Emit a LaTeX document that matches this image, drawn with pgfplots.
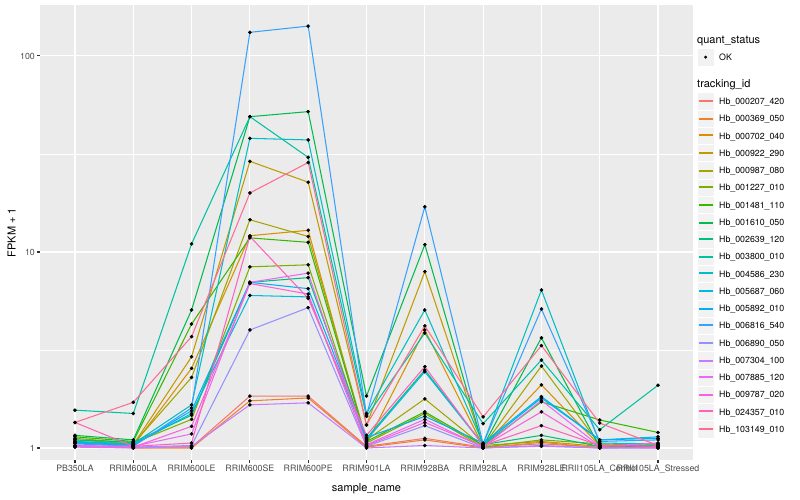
\documentclass[border=0pt]{standalone}
\usepackage{pgfplots}
\pgfplotsset{compat=1.18}
\usepackage{pgfplotstable}
\usepackage{fontspec}
\setmainfont{TeX Gyre Heros}

\definecolor{panelbg}{HTML}{EBEBEB}
\definecolor{keybg}{HTML}{F2F2F2}
\definecolor{gray30}{HTML}{4D4D4D}
\definecolor{gray20}{HTML}{333333}
% ggplot hue palette, 20 levels
\definecolor{c1}{HTML}{F8766D}
\definecolor{c2}{HTML}{EA8331}
\definecolor{c3}{HTML}{D89000}
\definecolor{c4}{HTML}{C09B00}
\definecolor{c5}{HTML}{A3A500}
\definecolor{c6}{HTML}{7CAE00}
\definecolor{c7}{HTML}{39B600}
\definecolor{c8}{HTML}{00BB4E}
\definecolor{c9}{HTML}{00BF7D}
\definecolor{c10}{HTML}{00C1A3}
\definecolor{c11}{HTML}{00BFC4}
\definecolor{c12}{HTML}{00BAE0}
\definecolor{c13}{HTML}{00B0F6}
\definecolor{c14}{HTML}{35A2FF}
\definecolor{c15}{HTML}{9590FF}
\definecolor{c16}{HTML}{C77CFF}
\definecolor{c17}{HTML}{E76BF3}
\definecolor{c18}{HTML}{FA62DB}
\definecolor{c19}{HTML}{FF62BC}
\definecolor{c20}{HTML}{FF6C91}

\newcommand\tickfont{\fontsize{8.8bp}{10bp}\selectfont}
\newcommand\titlefont{\fontsize{11bp}{13bp}\selectfont}

% one legend key: y centre, line y, colour, label
\newcommand\legkey[4]{%
  \fill[keybg, draw=white, line width=0.5bp] (697,#1-8.64) rectangle (714.3,#1+8.64);
  \draw[draw=#3, line width=1.8bp] (698.7,#2) -- (712.6,#2);
  \node[anchor=base west, inner sep=0pt, font=\tickfont] at (719,#1-3.2) {#4};
}

% FPKM + 1, one row per sample, one column per tracking_id
\pgfplotstableread{
x  s1   s2   s3   s4   s5   s6   s7   s8   s9   s10  s11  s12  s13  s14  s15  s16  s17  s18  s19  s20
0  1.02 1.03 1.06 1.08 1.10 1.12 1.14 1.16 1.10 1.56 1.08 1.07 1.06 1.05 1.02 1.01 1.03 1.02 1.35 1.35
1  1.01 1.00 1.03 1.04 1.05 1.06 1.08 1.10 1.07 1.50 1.05 1.04 1.03 1.02 1.01 1.00 1.02 1.01 1.02 1.71
2  1.01 1.00 2.55 2.92 2.29 1.40 4.29 5.06 1.47 11.0 1.66 1.50 1.55 1.60 1.03 1.02 1.18 1.29 1.06 3.70
3  1.84 1.74 12.1 29   14.6 8.4  11.8 49   7.0  49   38   6.0  7.0  132  4.0  1.66 7.0  6.9  12.0 20
4  1.84 1.80 12.9 22.7 12.0 8.6  11.2 52   7.4  30.4 37.3 5.9  6.5  142  5.2  1.70 7.8  6.1  5.8  28.6
5  1.02 1.01 1.05 1.31 1.10 1.06 1.08 1.84 1.12 1.45 1.50 1.10 1.13 1.47 1.02 1.00 1.04 1.03 1.16 1.31
6  1.12 1.10 4.0  7.94 1.78 1.50 1.53 10.9 2.50 3.86 5.06 2.45 1.45 17.0 1.30 1.03 1.40 1.35 2.60 4.20
7  1.01 1.00 1.02 1.03 1.02 1.01 1.03 1.02 1.04 1.33 1.05 1.04 1.06 1.05 1.00 1.00 1.01 1.02 1.03 1.44
8  1.05 1.07 2.1  1.08 2.62 1.10 1.72 3.65 1.16 2.81 6.4  1.80 1.83 5.12 1.03 1.02 1.75 1.53 1.30 3.33
9  1.01 1.00 1.03 1.02 1.04 1.05 1.39 1.01 1.02 1.24 1.06 1.10 1.10 1.08 1.00 1.00 1.02 1.01 1.03 1.34
10 1.01 1.02 1.02 1.03 1.01 1.03 1.20 1.02 1.04 2.09 1.05 1.14 1.12 1.10 1.00 1.01 1.06 1.00 1.02 1.03
}\fpkm

\begin{document}
\begin{tikzpicture}
\fill[white] (0,0) rectangle (800bp,500bp);
\begin{axis}[
  at={(40bp,40bp)}, anchor=south west,
  scale only axis, width=653bp, height=455bp,
  xmin=-0.6, xmax=10.6,
  ymode=log, ymin=0.8685, ymax=182,
  axis background/.style={fill=panelbg},
  axis line style={draw=none},
  tick pos=left, tick align=outside,
  major tick length=2.75bp, minor tick length=0bp,
  tick style={gray20, line width=1.07bp},
  xtick={0,...,10},
  xticklabels={PB350LA,RRIM600LA,RRIM600LE,RRIM600SE,RRIM600PE,RRIM901LA,RRIM928BA,RRIM928LA,RRIM928LE,RRII105LA\_Control,RRII105LA\_Stressed},
  ytick={1,10,100}, yticklabels={1,10,100},
  minor ytick={3.1623,31.623},
  grid=both,
  major grid style={white, line width=1.07bp},
  minor grid style={white, line width=0.53bp},
  xticklabel style={font=\tickfont, text=gray30, inner sep=0pt, anchor=north},
  yticklabel style={font=\tickfont, text=gray30, inner sep=0pt, anchor=east},
  xticklabel shift=2.2bp, yticklabel shift=2.2bp,
  xlabel={sample\_name}, ylabel={FPKM + 1},
  xlabel style={font=\titlefont, at={([yshift=-31bp]axis description cs:0.5,0)}, anchor=base},
  ylabel style={font=\titlefont, at={([xshift=-24.5bp]axis description cs:0,0.5)}, anchor=base},
]
\pgfplotsinvokeforeach{1,...,20}{
  \addplot[c#1, line width=1.05bp, forget plot] table[x=x, y=s#1] {\fpkm};
}
\pgfplotsinvokeforeach{1,...,20}{
  \addplot[only marks, mark=*, mark size=1.6bp, black, forget plot] table[x=x, y=s#1] {\fpkm};
}
\end{axis}

% legends
\begin{scope}[x=1bp, y=1bp]
\node[anchor=base west, inner sep=0pt, font=\titlefont] at (697,456.7) {quant\_status};
\fill[keybg, draw=white, line width=0.5bp] (697,434.2) rectangle (714.3,451.5);
\fill[black] (705.6,442.8) circle (1.6);
\node[anchor=base west, inner sep=0pt, font=\tickfont] at (719,439.6) {OK};
\node[anchor=base west, inner sep=0pt, font=\titlefont] at (697,412.3) {tracking\_id};
\legkey{398.7}{399}{c1}{Hb\_000207\_420}
\legkey{381.44}{381}{c2}{Hb\_000369\_050}
\legkey{364.18}{365}{c3}{Hb\_000702\_040}
\legkey{346.92}{347}{c4}{Hb\_000922\_290}
\legkey{329.66}{329}{c5}{Hb\_000987\_080}
\legkey{312.4}{313}{c6}{Hb\_001227\_010}
\legkey{295.14}{295}{c7}{Hb\_001481\_110}
\legkey{277.88}{277}{c8}{Hb\_001610\_050}
\legkey{260.62}{261}{c9}{Hb\_002639\_120}
\legkey{243.36}{243}{c10}{Hb\_003800\_010}
\legkey{226.1}{227}{c11}{Hb\_004586\_230}
\legkey{208.84}{209}{c12}{Hb\_005687\_060}
\legkey{191.58}{191}{c13}{Hb\_005892\_010}
\legkey{174.32}{175}{c14}{Hb\_006816\_540}
\legkey{157.06}{157}{c15}{Hb\_006890\_050}
\legkey{139.8}{139}{c16}{Hb\_007304\_100}
\legkey{122.54}{123}{c17}{Hb\_007885\_120}
\legkey{105.28}{105}{c18}{Hb\_009787\_020}
\legkey{88.02}{89}{c19}{Hb\_024357\_010}
\legkey{70.76}{71}{c20}{Hb\_103149\_010}
\end{scope}
\pgfresetboundingbox
\useasboundingbox (0,0) rectangle (800bp,500bp);
\end{tikzpicture}
\end{document}
